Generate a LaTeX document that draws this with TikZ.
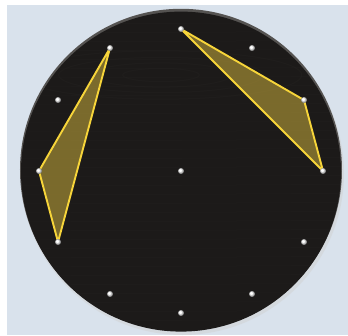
\documentclass[tikz,border=0pt]{standalone}
\usepackage{tikz}
\usetikzlibrary{calc}
\definecolor{skybg}{HTML}{D9E2EC}
\definecolor{woodblack}{HTML}{1C1A19}
\definecolor{woodgrain}{HTML}{262422}
\definecolor{rimgray}{HTML}{555351}
\definecolor{bandyellow}{HTML}{F7D53A}
\definecolor{bandfill}{HTML}{C9AC3C}
\tikzset{
  board/.style={circle,fill=woodblack,minimum size=320pt,inner sep=0pt},
  peg/.style={circle,inner sep=0pt,minimum size=6pt,ball color=white,shading=ball},
  band/.style={draw=bandyellow,line width=1.9pt,line join=round,fill=bandfill,fill opacity=0.55},
}
\begin{document}
\begin{tikzpicture}[x=1pt,y=1pt]
  \useasboundingbox (-181,-164) rectangle (167,171);
  \fill[white] (-181,-164) rectangle (167,171);
  \fill[skybg] (-174,-164) rectangle (167,166);
  % shadow and rim
  \fill[black!18,opacity=0.5] (1.5,-2.5) circle[radius=161.5];
  \fill[rimgray] (0,1.2) circle[radius=161];
  \node[board] (board) at (0,-0.6) {};
  \begin{scope}
    \clip (board.center) circle[radius=160];
    \foreach \y in {-150,-141,...,150}
      \draw[woodgrain,line width=0.5pt,opacity=0.45] (-165,\y) -- (165,\y+1.5);
    \foreach \r in {12,22,32,44}
      \draw[woodgrain,line width=1pt,opacity=0.35] (-20,96) ellipse[x radius=3.2*\r,y radius=0.55*\r];
  \end{scope}
  % hour positions
  \foreach \h in {1,...,12}
    \coordinate (h\h) at ($(0,0)+(90-30*\h:142)$);
  \coordinate (hc) at (0,0);
  % bands
  \draw[band] (h11) -- (h9) -- (h8) -- cycle;
  \draw[band] (h12) -- (h2) -- (h3) -- cycle;
  % pegs
  \foreach \h in {1,...,12}
    \node[peg] (peg\h) at (h\h) {};
  \node[peg] (pegc) at (hc) {};
\end{tikzpicture}
\end{document}
